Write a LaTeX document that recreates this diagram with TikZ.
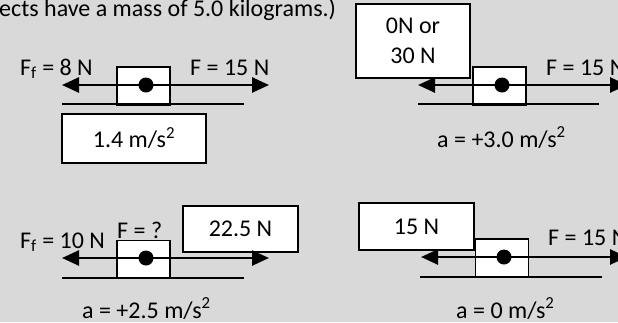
\documentclass[tikz,border=0pt]{standalone}
\usepackage{fontspec}
\setmainfont{Carlito}
\usetikzlibrary{arrows.meta}
\definecolor{panelgray}{HTML}{D9D9D9}
\tikzset{
  lbl/.style={inner sep=0pt, anchor=base west, font=\fontsize{24}{28}\selectfont},
  ansbox/.style={draw, line width=1.4pt, fill=white, align=center, inner sep=0pt,
    font=\fontsize{24}{30}\selectfont},
  block/.style={draw, line width=1.4pt, fill=white, inner sep=0pt,
    minimum width=53pt, minimum height=38pt},
  force/.style={line width=2.6pt, -{Triangle[length=17pt,width=15pt]}},
  ground/.style={line width=1.8pt},
  dot/.style={circle, fill=black, inner sep=0pt, minimum size=15pt}
}
\newcommand{\msq}{m/s\textsuperscript{2}}
\begin{document}
\begin{tikzpicture}[x=1pt, y=-1pt]
  \fill[panelgray] (0,0) rectangle (618,322);
  \useasboundingbox (0,0) rectangle (618,322);
  \clip (0,0) rectangle (618,322);

  % Heading (cut off on the left)
  \node[lbl] (head) at (-1,16) {ects have a mass of 5.0 kilograms.)};

  % First block
  \node[block] (b1) at (143.5,86) {};
  \coordinate (l1) at (62,85);
  \coordinate (r1) at (269,85);
  \node[dot] (d1) at (146,85) {};
  \draw[force] (d1.center) -- (l1);
  \draw[force] (d1.center) -- (r1);
  \coordinate (gl1) at (62,104);
  \coordinate (gr1) at (244,104);
  \draw[ground] (gl1) -- (gr1);
  \node[lbl] (ff1) at (20,75) {F\textsubscript{f} = 8 N};
  \node[lbl] (f1) at (190,75) {F = 15 N};
  \node[ansbox, minimum width=144pt, minimum height=49pt] (ans1) at (134,138.5) {1.4 \msq};

  % Second block
  \node[ansbox, minimum width=114pt, minimum height=74pt] (ans2) at (413,41) {0N or\\30 N};
  \node[block] (b2) at (499.5,86) {};
  \coordinate (l2) at (418,85);
  \coordinate (r2) at (627,85);
  \node[dot] (d2) at (502,85) {};
  \draw[force] (d2.center) -- (l2);
  \draw[force] (d2.center) -- (r2);
  \coordinate (gl2) at (418,104);
  \coordinate (gr2) at (599,104);
  \draw[ground] (gl2) -- (gr2);
  \node[lbl] (f2) at (546,75) {F = 15 N};
  \node[lbl] (a2) at (437,147) {a = +3.0 \msq};

  % Third block
  \node[ansbox, minimum width=115pt, minimum height=46pt] (ans3) at (240.5,229) {22.5 N};
  \node[block] (b3) at (143.5,259.5) {};
  \coordinate (l3) at (62,258);
  \coordinate (r3) at (269,258);
  \node[dot] (d3) at (146,258) {};
  \draw[force] (d3.center) -- (l3);
  \draw[force] (d3.center) -- (r3);
  \coordinate (gl3) at (62,278);
  \coordinate (gr3) at (244,278);
  \draw[ground] (gl3) -- (gr3);
  \node[lbl] (ff3) at (20,248) {F\textsubscript{f} = 10 N};
  \node[lbl] (f3) at (117,238) {F = ?};
  \node[lbl] (a3) at (82,318) {a = +2.5 \msq};

  % Fourth block
  \node[ansbox, minimum width=115pt, minimum height=47pt] (ans4) at (416.5,226.5) {15 N};
  \node[block] (b4) at (502,258) {};
  \coordinate (l4) at (421,257);
  \coordinate (r4) at (627,257);
  \node[dot] (d4) at (504,257) {};
  \draw[force] (d4.center) -- (l4);
  \draw[force] (d4.center) -- (r4);
  \coordinate (gl4) at (420,277);
  \coordinate (gr4) at (602,277);
  \draw[ground] (gl4) -- (gr4);
  \node[lbl] (f4) at (548,245) {F = 15 N};
  \node[lbl] (a4) at (456,318) {a = 0 \msq};
\end{tikzpicture}
\end{document}
